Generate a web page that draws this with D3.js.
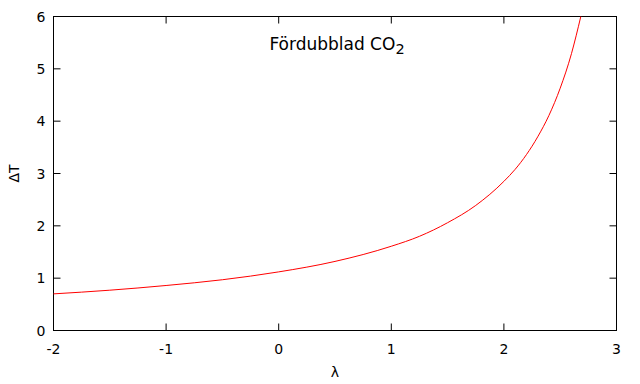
<!DOCTYPE html>
<html>
<head>
<meta charset="utf-8">
<script src="https://cdn.jsdelivr.net/npm/d3@7"></script>
<style>
  body { margin: 0; background: #fff; }
  text { font-family: "DejaVu Sans", sans-serif; fill: #000; }
</style>
</head>
<body>
<div id="chart"></div>
<script>
// Data
const lambdaVals = [-2, -1.5, -1, -0.5, 0, 0.5, 1, 1.25, 1.5, 1.75, 2, 2.1, 2.2, 2.3, 2.4, 2.5, 2.6, 2.683];
const deltaT = [0.70, 0.77, 0.86, 0.97, 1.12, 1.32, 1.61, 1.80, 2.06, 2.39, 2.85, 3.08, 3.36, 3.70, 4.11, 4.63, 5.29, 6.0];
const xTicks = [-2, -1, 0, 1, 2, 3];
const yTicks = [0, 1, 2, 3, 4, 5, 6];

const width = 640, height = 384;
const margin = { left: 53.5, right: 23.5, top: 16.5, bottom: 53.5 };

const svg = d3.select("#chart")
  .append("svg")
  .attr("width", width)
  .attr("height", height);

const x = d3.scaleLinear().domain([-2, 3]).range([margin.left, width - margin.right]);
const y = d3.scaleLinear().domain([0, 6]).range([height - margin.bottom, margin.top]);

const tick = 7;

// ticks on all four sides (pointing inward)
svg.selectAll(".xt").data(xTicks).join("line")
  .attr("x1", d => x(d)).attr("x2", d => x(d))
  .attr("y1", y(0)).attr("y2", y(0) - tick)
  .attr("stroke", "#000");
svg.selectAll(".xt2").data(xTicks).join("line")
  .attr("x1", d => x(d)).attr("x2", d => x(d))
  .attr("y1", y(6)).attr("y2", y(6) + tick)
  .attr("stroke", "#000");
svg.selectAll(".yt").data(yTicks).join("line")
  .attr("x1", x(-2)).attr("x2", x(-2) + tick)
  .attr("y1", d => y(d)).attr("y2", d => y(d))
  .attr("stroke", "#000");
svg.selectAll(".yt2").data(yTicks).join("line")
  .attr("x1", x(3)).attr("x2", x(3) - tick)
  .attr("y1", d => y(d)).attr("y2", d => y(d))
  .attr("stroke", "#000");

// frame
svg.append("rect")
  .attr("x", x(-2)).attr("y", y(6))
  .attr("width", x(3) - x(-2)).attr("height", y(0) - y(6))
  .attr("fill", "none").attr("stroke", "#000");

// tick labels
svg.selectAll(".xl").data(xTicks).join("text")
  .attr("x", d => x(d)).attr("y", y(0) + 23)
  .attr("text-anchor", "middle").attr("font-size", 14)
  .text(d => d);
svg.selectAll(".yl").data(yTicks).join("text")
  .attr("x", x(-2) - 8).attr("y", d => y(d) + 5)
  .attr("text-anchor", "end").attr("font-size", 14)
  .text(d => d);

// axis labels
svg.append("text")
  .attr("x", x(0.5)).attr("y", 377)
  .attr("text-anchor", "middle").attr("font-size", 14)
  .text("λ");
svg.append("text")
  .attr("transform", `translate(19,${y(3)}) rotate(-90)`)
  .attr("text-anchor", "middle").attr("font-size", 14)
  .text("ΔT");

// title
const title = svg.append("text")
  .attr("x", 337).attr("y", 50)
  .attr("text-anchor", "middle").attr("font-size", 17);
title.append("tspan").text("Fördubblad CO");
title.append("tspan").attr("dy", 4).attr("font-size", 14.5).text("2");

// curve
const pts = lambdaVals.map((l, i) => [l, deltaT[i]]);
svg.append("path")
  .datum(pts)
  .attr("fill", "none")
  .attr("stroke", "#ff0000")
  .attr("stroke-width", 1)
  .attr("d", d3.line().x(d => x(d[0])).y(d => y(d[1])).curve(d3.curveMonotoneX));
</script>
</body>
</html>
